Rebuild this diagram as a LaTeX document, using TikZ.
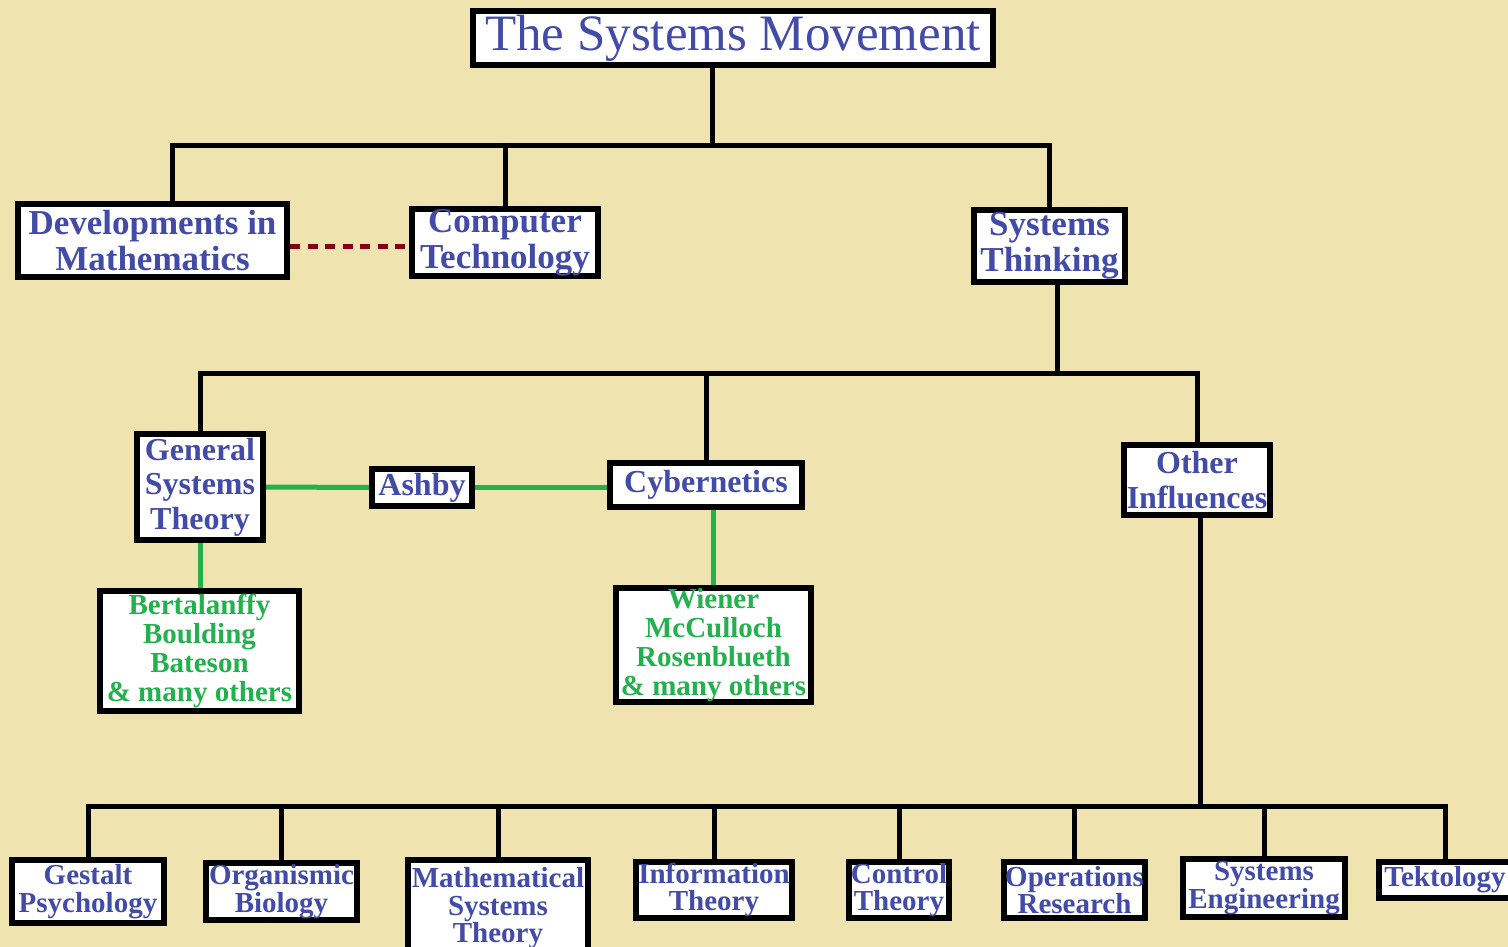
\documentclass[tikz,border=0pt]{standalone}
\usepackage{fontspec}
\setmainfont{Liberation Serif}
\usetikzlibrary{positioning,backgrounds}
\definecolor{paperyellow}{RGB}{239,228,176}
\definecolor{movblue}{RGB}{66,76,168}
\definecolor{namegreen}{RGB}{34,177,76}
\definecolor{linkred}{RGB}{136,0,21}

\begin{document}
\begin{tikzpicture}[x=1pt,y=-1pt,
    box/.style={draw=black,line width=6pt,fill=white,inner sep=0pt,align=center,text=movblue},
    topbox/.style={box,font=\bfseries\fontsize{35}{36.3}\selectfont},
    midbox/.style={box,font=\bfseries\fontsize{32}{34.5}\selectfont},
    namebox/.style={box,text=namegreen,font=\bfseries\fontsize{29}{29}\selectfont},
    leafbox/.style={box,font=\bfseries\fontsize{29}{27.5}\selectfont},
    tree/.style={black,line width=5pt},
    link/.style={namegreen,line width=5pt}]
  \useasboundingbox (0,0) rectangle (1508,947);
  \node[box,font=\fontsize{51}{51}\selectfont,minimum width=520,minimum height=54] (title) at (733,38) {The Systems Movement};
  \node[topbox,minimum width=269,minimum height=73] (dev)  at (152.5,240.5) {Developments in\\Mathematics};
  \node[topbox,minimum width=186,minimum height=65] (comp) at (505,242.5) {Computer\\Technology};
  \node[topbox,minimum width=151,minimum height=72] (sys)  at (1049.5,246) {Systems\\Thinking};
  \node[midbox,minimum width=126,minimum height=106] (gst)   at (200,487) {General\\Systems\\Theory};
  \node[midbox,minimum width=100,minimum height=37]  (ashby) at (422,487.5) {Ashby};
  \node[midbox,minimum width=192,minimum height=44]  (cyb)   at (706,485) {Cybernetics};
  \node[midbox,minimum width=146,minimum height=70]  (oth)   at (1197,480) {Other\\Influences};
  \node[namebox,minimum width=199,minimum height=120] (bert) at (199.5,651) {Bertalanffy\\Boulding\\Bateson\\\& many others};
  \node[namebox,minimum width=195,minimum height=113] (wien) at (713.5,645) {Wiener\\McCulloch\\Rosenblueth\\\& many others};
  \node[leafbox,minimum width=152,minimum height=63] (gest) at (88,891.5) {Gestalt\\Psychology};
  \node[leafbox,minimum width=151,minimum height=57] (org)  at (281.5,891.5) {Organismic\\Biology};
  \node[leafbox,minimum width=180,minimum height=97] (mst)  at (498,908.5) {Mathematical\\Systems\\Theory};
  \node[leafbox,minimum width=156,minimum height=56] (inf)  at (714,890) {Information\\Theory};
  \node[leafbox,minimum width=100,minimum height=56] (ctl)  at (899,890) {Control\\Theory};
  \node[leafbox,minimum width=141,minimum height=56] (ops)  at (1074.5,890) {Operations\\Research};
  \node[leafbox,minimum width=162,minimum height=58] (seng) at (1264,888) {Systems\\Engineering};
  \node[leafbox,minimum width=132,minimum height=36] (tek)  at (1445,880) {Tektology};
  \begin{scope}[on background layer]
    \fill[paperyellow] (0,0) rectangle (1508,947);
    \coordinate (busA) at (712,146);
    \coordinate (busB) at (1057,373);
    \coordinate (busC) at (1200,806);
    \draw[tree] (busA) -- (busA |- title.south);
    \draw[tree] ([xshift=19.5pt]dev.north) |- (busA) -| (sys.north);
    \draw[tree] (comp.north) -- (comp.north |- busA);
    \draw[tree] (busB) -- (busB |- sys.south);
    \draw[tree] (gst.north) |- (busB) -| (oth.north);
    \draw[tree] (cyb.north) -- (cyb.north |- busB);
    \draw[tree] (busC) -- (busC |- oth.south);
    \draw[tree] (gest.north) |- (busC) -| (tek.north);
    \foreach \leaf in {org,mst,inf,ctl,ops,seng}
      \draw[tree] (\leaf.north) -- (\leaf.north |- busC);
    \draw[linkred,line width=5pt,dash pattern=on 10pt off 7.5pt] ([yshift=-5.5pt]dev.east) -- ([yshift=-5.5pt]dev.east -| comp.west);
    \draw[link] (gst.east) -- (ashby.west);
    \draw[link] (ashby.east) -- (ashby.east -| cyb.west);
    \draw[link] (gst.south) -- (gst.south |- bert.north);
    \draw[link] (wien.north) -- (wien.north |- cyb.south);
  \end{scope}
\end{tikzpicture}
\end{document}
